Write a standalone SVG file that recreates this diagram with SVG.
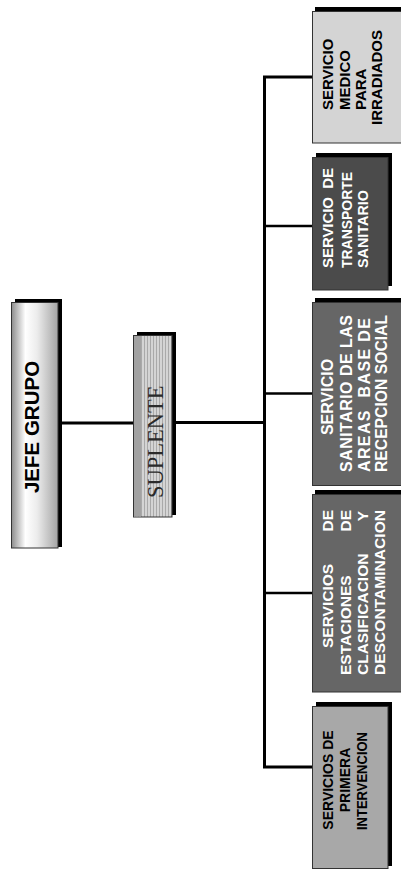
<svg xmlns="http://www.w3.org/2000/svg" width="401" height="870" viewBox="0 0 401 870">
  <defs>
    <style>
      .lbl { font-family: 'Liberation Sans', Arial, sans-serif; font-weight: bold; }
      .dark { fill: #ffffff; }
      .light { fill: #000000; }
      .shadow { fill: #000000; }
      .frame { stroke: #333333; stroke-width: 1; }
      .conn { fill: none; stroke: #000000; stroke-linecap: square; }
    </style>
    <linearGradient id="chrome" x1="0" y1="0" x2="1" y2="0">
      <stop offset="0" stop-color="#8c8c8c"/>
      <stop offset="0.3" stop-color="#ffffff"/>
      <stop offset="0.55" stop-color="#ececec"/>
      <stop offset="1" stop-color="#a4a4a4"/>
    </linearGradient>
    <pattern id="ribs" x="0" y="0" width="3" height="10" patternUnits="userSpaceOnUse">
      <rect width="3" height="10" fill="#d4d4d4"/>
      <rect width="1" height="10" fill="#a9a9a9"/>
    </pattern>
  </defs>

  <rect width="401" height="870" fill="#ffffff"/>

  <!-- connectors -->
  <g id="connectors" class="conn">
    <line x1="62" y1="423" x2="133" y2="423" stroke-width="3"/>
    <line x1="176" y1="422.5" x2="264" y2="422.5" stroke-width="3"/>
    <path d="M312 77 H264.5 V767 H312" stroke-width="3" stroke-linecap="butt"/>
    <line x1="265" y1="226" x2="312" y2="226" stroke-width="2.6" stroke-linecap="butt"/>
    <line x1="265" y1="393.5" x2="312" y2="393.5" stroke-width="2.6" stroke-linecap="butt"/>
    <line x1="265" y1="593" x2="312" y2="593" stroke-width="2.6" stroke-linecap="butt"/>
  </g>

  <!-- JEFE GRUPO -->
  <g id="jefe-grupo">
    <rect class="shadow" x="15" y="299" width="47" height="248"/>
    <rect class="frame" x="11.5" y="302.5" width="46.5" height="245.5" fill="url(#chrome)"/>
    <text class="lbl light" font-size="20.5" text-anchor="middle" transform="translate(39,427) rotate(-90)">JEFE GRUPO</text>
  </g>

  <!-- SUPLENTE -->
  <g id="suplente">
    <rect class="shadow" x="137" y="332" width="39" height="183"/>
    <rect x="133.5" y="335.5" width="38.5" height="181.5" fill="url(#ribs)" stroke="#333333" stroke-width="1"/>
    <rect x="134" y="336" width="7" height="180.5" fill="#a2a2a2"/>
    <text font-family="'Liberation Serif', 'Times New Roman', serif" font-size="22.5" fill="#2a2a2a" text-anchor="start" transform="translate(163,498) rotate(-90)">SUPLENTE</text>
  </g>

  <!-- SERVICIO MEDICO PARA IRRADIADOS -->
  <g id="medico">
    <rect class="shadow" x="315" y="7" width="90" height="132"/>
    <rect class="frame" x="312.5" y="11.5" width="90" height="131.5" fill="#d4d4d4"/>
    <g class="lbl light" font-size="15">
      <text transform="translate(333,110) rotate(-90)">SERVICIO</text>
      <text transform="translate(349.5,110) rotate(-90)">MEDICO</text>
      <text transform="translate(365.5,110) rotate(-90)">PARA</text>
      <text transform="translate(382,125) rotate(-90)">IRRADIADOS</text>
    </g>
  </g>

  <!-- SERVICIO DE TRANSPORTE SANITARIO -->
  <g id="transporte">
    <rect class="shadow" x="316" y="153" width="76" height="133"/>
    <rect class="frame" x="312.5" y="157.5" width="75.5" height="132.5" fill="#4b4b4b"/>
    <g class="lbl dark" font-size="15">
      <text transform="translate(333,268) rotate(-90)" textLength="100" xml:space="preserve">SERVICIO  DE</text>
      <text transform="translate(352,268) rotate(-90)" textLength="96" lengthAdjust="spacingAndGlyphs">TRANSPORTE</text>
      <text transform="translate(368,268) rotate(-90)" textLength="78" lengthAdjust="spacingAndGlyphs">SANITARIO</text>
    </g>
  </g>

  <!-- SERVICIO SANITARIO DE LAS AREAS BASE DE RECEPCION SOCIAL -->
  <g id="sanitario">
    <rect class="shadow" x="315" y="298" width="90" height="183"/>
    <rect class="frame" x="312.5" y="302.5" width="90" height="183" fill="#666666"/>
    <g class="lbl dark" font-size="16">
      <text text-anchor="middle" transform="translate(333,397) rotate(-90)">SERVICIO</text>
      <text transform="translate(352,472) rotate(-90)" textLength="157">SANITARIO DE LAS</text>
      <text transform="translate(370,472) rotate(-90)" textLength="154" xml:space="preserve">AREAS  BASE DE</text>
      <text transform="translate(387,472) rotate(-90)" textLength="157" lengthAdjust="spacingAndGlyphs">RECEPCION SOCIAL</text>
    </g>
  </g>

  <!-- SERVICIOS DE ESTACIONES DE CLASIFICACION Y DESCONTAMINACION -->
  <g id="estaciones">
    <rect class="shadow" x="315" y="490" width="90" height="198"/>
    <rect class="frame" x="312.5" y="494.5" width="90" height="197.5" fill="#666666"/>
    <g class="lbl dark" font-size="15.5">
      <text transform="translate(333,648) rotate(-90)">SERVICIOS</text>
      <text text-anchor="end" transform="translate(333,510) rotate(-90)">DE</text>
      <text transform="translate(351,675) rotate(-90)">ESTACIONES</text>
      <text text-anchor="end" transform="translate(351,510) rotate(-90)">DE</text>
      <text transform="translate(368,675) rotate(-90)">CLASIFICACION</text>
      <text text-anchor="end" transform="translate(368,511) rotate(-90)">Y</text>
      <text transform="translate(385,675) rotate(-90)" textLength="165" lengthAdjust="spacingAndGlyphs">DESCONTAMINACION</text>
    </g>
  </g>

  <!-- SERVICIOS DE PRIMERA INTERVENCION -->
  <g id="primera">
    <rect class="shadow" x="316" y="702" width="76" height="164"/>
    <rect class="frame" x="312.5" y="706.5" width="75.5" height="162" fill="#a8a8a8"/>
    <g class="lbl light" font-size="14" text-anchor="middle">
      <text transform="translate(333,780) rotate(-90)">SERVICIOS DE</text>
      <text transform="translate(350,780) rotate(-90)">PRIMERA</text>
      <text transform="translate(366.5,781) rotate(-90)" textLength="98" lengthAdjust="spacingAndGlyphs">INTERVENCION</text>
    </g>
  </g>
</svg>
